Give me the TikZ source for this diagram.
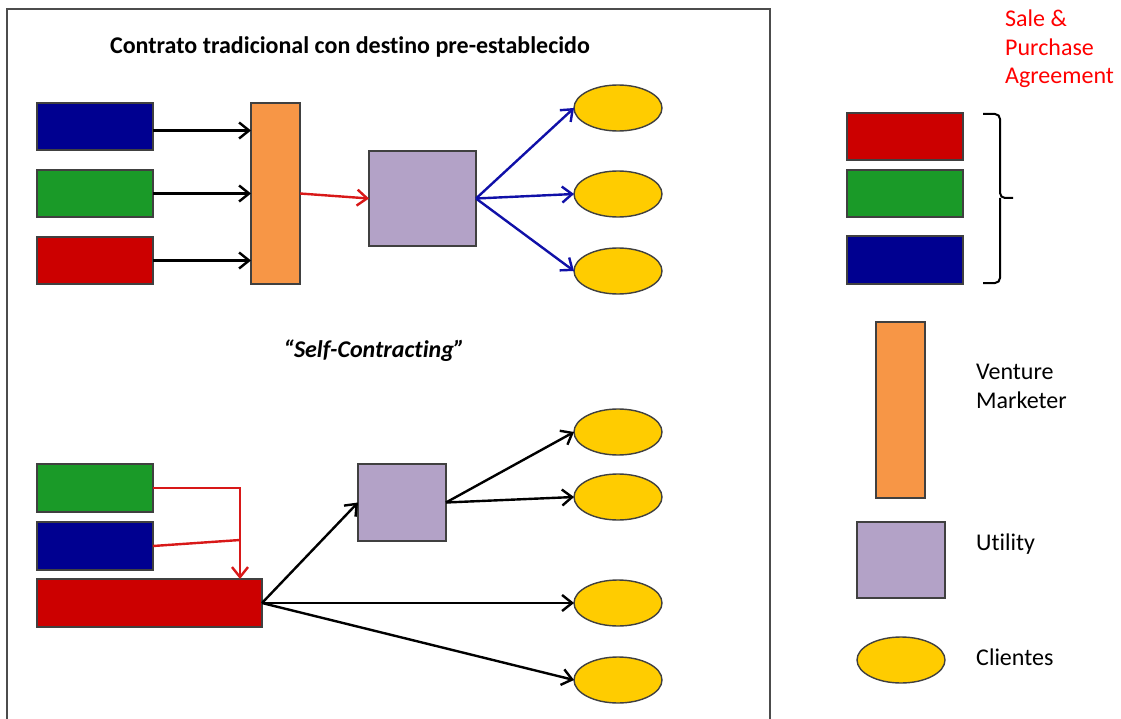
\documentclass[tikz,border=0pt]{standalone}
\usepackage{fontspec}
\setmainfont{Carlito}[Ligatures={NoCommon,TeX}]
\usetikzlibrary{arrows.meta,shapes.geometric}
\definecolor{cnavy}{HTML}{000090}
\definecolor{cgreen}{HTML}{1A9A28}
\definecolor{cred}{HTML}{CC0000}
\definecolor{corange}{HTML}{F79646}
\definecolor{cpurple}{HTML}{B3A2C7}
\definecolor{cyellow}{HTML}{FFCC00}
\definecolor{cedge}{HTML}{404040}
\definecolor{cbluearr}{HTML}{1010A8}
\definecolor{credarr}{HTML}{D81818}
\tikzset{
  shp/.style={draw=cedge, line width=1.4pt, inner sep=0pt, outer sep=0pt, anchor=north west},
  bar/.style={shp, rectangle, minimum width=116pt, minimum height=47pt},
  oval/.style={draw=cedge, line width=1.4pt, ellipse, fill=cyellow, minimum width=88pt, minimum height=46pt, inner sep=0pt, outer sep=0pt},
  arr/.style={line width=2.4pt, -{Straight Barb[length=10pt,width=16pt,line width=2.4pt]}},
  lbl/.style={inner sep=0pt, anchor=west, align=left, font=\fontsize{24}{29}\selectfont},
  ttl/.style={inner sep=0pt, font=\fontsize{24}{29}\selectfont\bfseries},
}
\begin{document}
\begin{tikzpicture}[x=1pt,y=-1pt]
\useasboundingbox (0,0) rectangle (1121,719);
\fill[white] (0,0) rectangle (1121,719);
% frame
\draw[line width=1.6pt, draw=black!70] (7,719) -- (7,9) -- (770,9) -- (770,719);

% titles
\node[ttl] (t1) at (350,47) {Contrato tradicional con destino pre-establecido};
\node[ttl, font=\fontsize{24}{29}\selectfont\bfseries\itshape] (t2) at (374,351) {“Self-Contracting”};

% top section
\node[bar, fill=cnavy] (b1) at (37,103) {};
\node[bar, fill=cgreen] (g1) at (37,170) {};
\node[bar, fill=cred] (r1) at (37,237) {};
\node[shp, fill=corange, minimum width=49pt, minimum height=181pt] (o1) at (251,103) {};
\node[shp, fill=cpurple, minimum width=107pt, minimum height=95pt] (p1) at (369,151) {};
\node[oval] (e1) at (618,108) {};
\node[oval] (e2) at (618,194) {};
\node[oval] (e3) at (618,271) {};

\draw[arr] ([yshift=-4pt]b1.east) -- ([yshift=-4pt]b1.east -| o1.west);
\draw[arr] (g1.east) -- (g1.east -| o1.west);
\draw[arr] (r1.east) -- (r1.east -| o1.west);
\draw[arr, draw=credarr] (o1.east) -- (p1.west);
\draw[arr, draw=cbluearr] (p1.east) -- (e1.west);
\draw[arr, draw=cbluearr] (p1.east) -- (e2.west);
\draw[arr, draw=cbluearr] (p1.east) -- (e3.west);

% bottom section
\node[bar, fill=cgreen, minimum height=48pt] (g2) at (37,464) {};
\node[bar, fill=cnavy, minimum height=48pt] (b2) at (37,522) {};
\node[shp, fill=cred, minimum width=225pt, minimum height=48pt] (r2) at (37,579) {};
\node[shp, fill=cpurple, minimum width=88pt, minimum height=77pt] (p2) at (358,464) {};
\node[oval] (f1) at (618,432) {};
\node[oval] (f2) at (618,497) {};
\node[oval] (f3) at (618,603) {};
\node[oval] (f4) at (618,680) {};

\coordinate (j) at (240,540);
\draw[line width=2.4pt, draw=credarr] (b2.east) -- (j);
\draw[arr, draw=credarr] (g2.east) -- (g2.east -| j) -- (j |- r2.north);
\draw[arr] (r2.east) -- (p2.west);
\draw[arr] (r2.east) -- (f3.west);
\draw[arr] (r2.east) -- (f4.west);
\draw[arr] (p2.east) -- (f1.west);
\draw[arr] (p2.east) -- (f2.west);

% legend
\node[lbl, text=red, anchor=north west, font=\fontsize{24}{28.5}\selectfont] (sp) at (1005,10) {Sale \&\\Purchase\\Agreement};
\node[bar, fill=cred] (lr) at (847,113) {};
\node[bar, fill=cgreen] (lg) at (847,170) {};
\node[bar, fill=cnavy, minimum height=48pt] (lb) at (847,236) {};
\draw[line width=2pt, rounded corners=5pt] (983,114) -- (1000,114) -- (1000,198) -- (1013,198);
\draw[line width=2pt, rounded corners=5pt] (983,283) -- (1000,283) -- (1000,198);

\node[shp, fill=corange, minimum width=49pt, minimum height=176pt] (lo) at (876,322) {};
\node[lbl] (tv) at (976,386) {Venture\\Marketer};
\node[shp, fill=cpurple, minimum width=88pt, minimum height=76pt] (lp) at (857,522) {};
\node[lbl] (tu) at (976,544) {Utility};
\node[oval] (le) at (901,660) {};
\node[lbl] (tc) at (976,657) {Clientes};
\end{tikzpicture}
\end{document}
